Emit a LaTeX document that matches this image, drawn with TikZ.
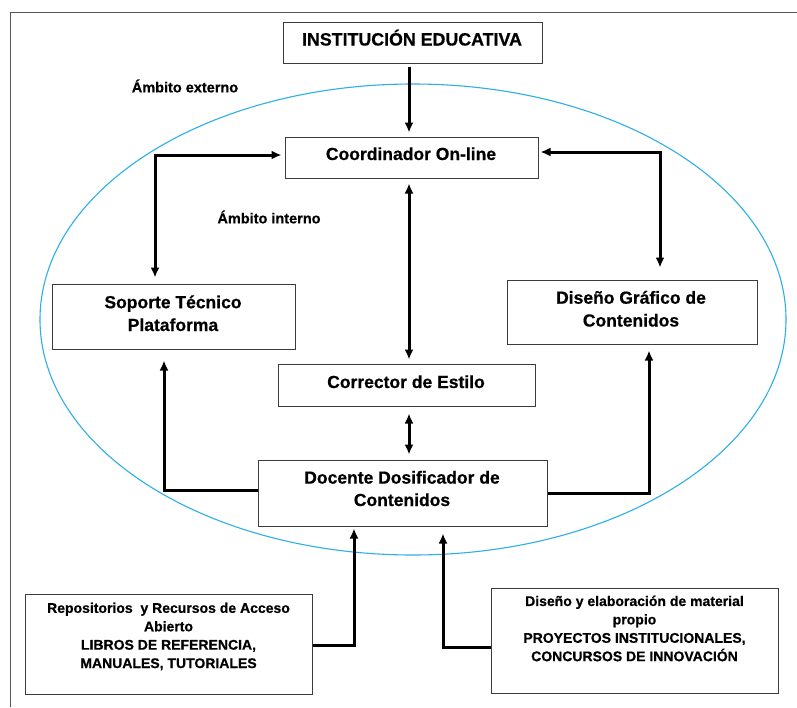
\documentclass[tikz,border=0pt]{standalone}
\usepackage{fontspec}
\setmainfont{Liberation Sans}[BoldFeatures={FakeBold=0.6}]
\usetikzlibrary{arrows.meta}
\definecolor{ellblue}{RGB}{45,175,232}
\definecolor{framegray}{RGB}{85,85,85}
\definecolor{boxgray}{RGB}{60,60,60}
\tikzset{
  box/.style={draw=boxgray, line width=1pt, rectangle, inner sep=0pt},
  bigtext/.style={align=center, inner sep=0pt, anchor=base, font=\bfseries\fontsize{17.5}{22.8}\selectfont},
  smalltext/.style={align=center, inner sep=0pt, font=\bfseries\fontsize{14}{18.4}\selectfont},
  lbl/.style={inner sep=0pt, font=\bfseries\fontsize{14.5}{17}\selectfont},
  arrone/.style={line width=3pt, -{Latex[length=10pt,width=9pt]}},
  arrtwo/.style={line width=3pt, {Latex[length=10pt,width=9pt]}-{Latex[length=10pt,width=9pt]}},
  ell/.style={draw=ellblue, line width=1.1pt},
}
\begin{document}
\begin{tikzpicture}[x=1pt,y=-1pt]
\useasboundingbox (0,0) rectangle (797,707);
\fill[white] (0,0) rectangle (797,707);
% frame
\draw[framegray, line width=0.9pt] (10,707) -- (10,12) -- (797,12);
% ellipse
\draw[ell] (413,319.5) ellipse [x radius=373pt, y radius=235.5pt];
% boxes
\node[box, minimum width=259pt, minimum height=41pt] (inst) at (412.5,42.5) {};
\node[bigtext, font=\bfseries\fontsize{17.8}{23}\selectfont] (instt) at (412,45.5) {INSTITUCIÓN EDUCATIVA};
\node[box, minimum width=253pt, minimum height=41pt] (coord) at (411.5,157.5) {};
\node[bigtext] (coordt) at (411,160) {Coordinador On-line};
\node[box, minimum width=243pt, minimum height=65pt] (sop) at (173.5,316.5) {};
\node[bigtext] (sopt) at (173,331) {Soporte Técnico\\Plataforma};
\node[box, minimum width=250pt, minimum height=64pt] (dg) at (632,312) {};
\node[bigtext] (dgt) at (631,326.5) {Diseño Gráfico de\\Contenidos};
\node[box, minimum width=257pt, minimum height=42pt] (corr) at (406.5,385) {};
\node[bigtext] (corrt) at (406,388) {Corrector de Estilo};
\node[box, minimum width=289pt, minimum height=66pt] (doc) at (402.5,493) {};
\node[bigtext, font=\bfseries\fontsize{17.5}{22.4}\selectfont] (doct) at (402,506) {Docente Dosificador de\\Contenidos};
\node[box, minimum width=287pt, minimum height=100pt] (repo) at (168.5,644) {};
\node[smalltext, anchor=north] (repot) at ([yshift=-9pt]repo.north) {Repositorios\ \ y Recursos de Acceso\\Abierto\\LIBROS DE REFERENCIA,\\MANUALES, TUTORIALES};
\node[box, minimum width=287pt, minimum height=105pt] (mat) at (634.5,640.5) {};
\node[smalltext, anchor=north] (matt) at ([yshift=-8pt]mat.north) {Diseño y elaboración de material\\propio\\PROYECTOS INSTITUCIONALES,\\CONCURSOS DE INNOVACIÓN};
% labels
\node[lbl] (ext) at (185,86) {Ámbito externo};
\node[lbl] (int) at (269,217) {Ámbito interno};
% routing coordinates
\coordinate (cx) at (409,0);
\coordinate (lx) at (155,155);
\coordinate (rx) at (660,152);
\coordinate (dl) at (164,490);
\coordinate (dr) at (649,493);
\coordinate (rb) at (354,645);
\coordinate (mb) at (443,647);
% connectors
\draw[arrone] ([yshift=-3pt]inst.south -| cx) -- ([yshift=4pt]coord.north -| cx);
\draw[arrtwo] ([yshift=-5pt]coord.south -| cx) -- ([yshift=4pt]corr.north -| cx);
\draw[arrtwo] ([yshift=-7pt]corr.south -| cx) -- ([yshift=5pt]doc.north -| cx);
\draw[arrtwo] ([yshift=6pt]sop.north -| lx) -- (lx) -- ([xshift=-3pt]coord.west |- lx);
\draw[arrtwo] ([xshift=2pt]coord.east |- rx) -- (rx) -- ([yshift=12pt]dg.north -| rx);
\draw[arrone] (doc.west |- dl) -- (dl) -- ([yshift=-11pt]sop.south -| dl);
\draw[arrone] (doc.east |- dr) -- (dr) -- ([yshift=-6pt]dg.south -| dr);
\draw[arrone] (repo.east |- rb) -- (rb) -- ([yshift=-2pt]doc.south -| rb);
\draw[arrone] (mat.west |- mb) -- (mb) -- ([yshift=-7pt]doc.south -| mb);
\end{tikzpicture}
\end{document}
